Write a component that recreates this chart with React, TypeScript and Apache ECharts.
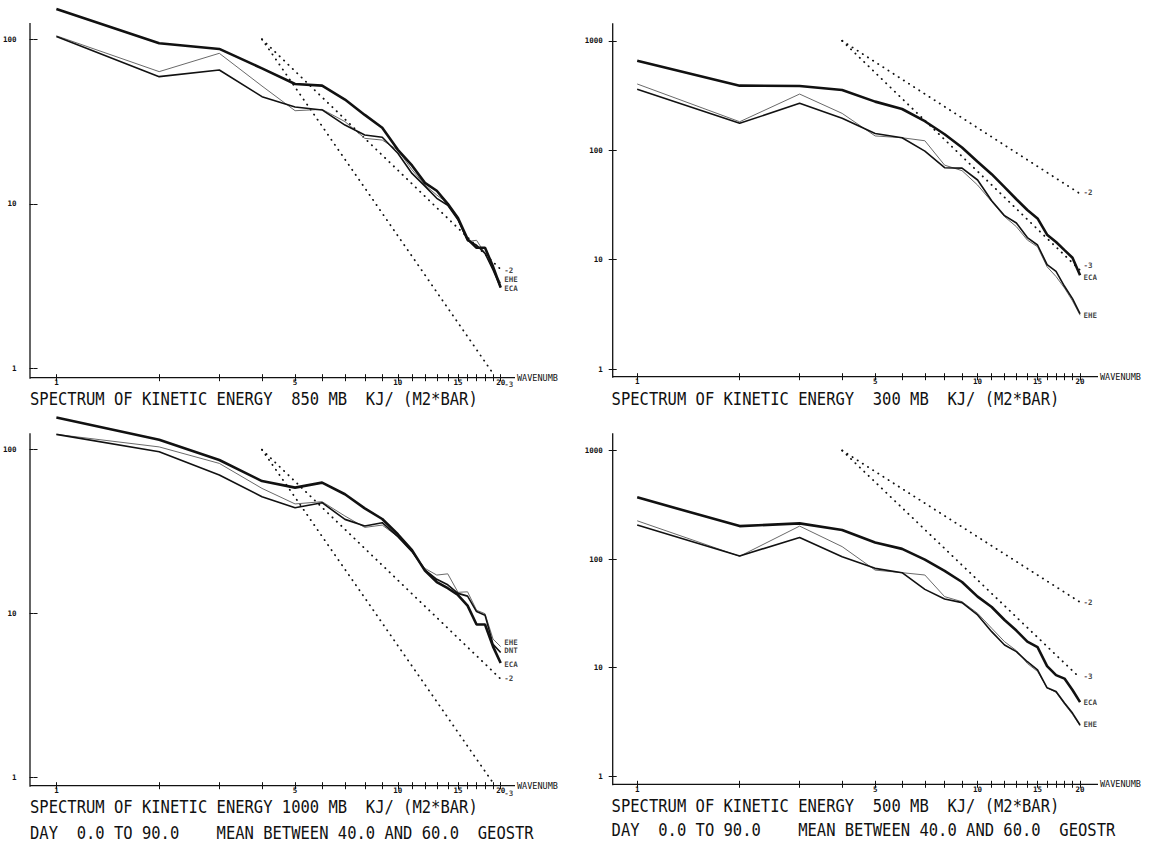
import React, { useEffect, useRef } from "react";
import * as echarts from "echarts";

// ---------- data ----------
const WAVENUMBERS = [1, 2, 3, 4, 5, 6, 7, 8, 9, 10, 11, 12, 13, 14, 15, 16, 17, 18, 19, 20];
const X_TICK_VALUES = [1, 2, 3, 4, 5, 6, 7, 8, 9, 10, 11, 12, 13, 14, 15, 16, 17, 18, 19, 20];
const X_LABEL_VALUES = [1, 5, 10, 15, 20];
const Y_LABELS_LOW = [1, 10, 100];
const Y_LABELS_HIGH = [1, 10, 100, 1000];

// 850 MB
const E850_ECA = [153, 94.6, 87.4, 66.6, 53.5, 52.3, 43, 34.7, 29, 21.3, 17.1, 13.4, 12, 10, 8.2, 6.1, 5.4, 5.4, 4.15, 3.1];
const E850_EHE = [104, 59.3, 65.1, 44.8, 38.8, 37.2, 30.1, 26.2, 25.4, 20.3, 15.3, 12.8, 10.8, 9.8, 8.0, 6.0, 5.6, 5.0, 3.96, 3.1];
const E850_ENE = [105, 63.6, 82.2, 52, 36.8, 37.5, 31.6, 25, 24.4, 21.2, 16.1, 13, 11.3, 10.1, 8.0, 5.9, 6.0, 5.0, 4.0, 3.3];

// 300 MB
const E300_ECA = [658, 389, 386, 355, 278, 238, 184, 140, 106, 78.5, 60.4, 46, 35.6, 28.4, 23.8, 16.9, 14.5, 12.2, 10.4, 7.2];
const E300_EHE = [360, 176, 268, 196, 142, 130, 98, 69.2, 68.6, 53.4, 34.5, 25.2, 21.6, 15.9, 13.6, 9, 7.8, 5.7, 4.4, 3.2];
const E300_ENE = [403, 182, 326, 217, 135, 130, 122, 73, 65, 48, 33.9, 24.7, 20, 15.1, 13.1, 8.6, 7.0, 5.5, 4.2, 3.1];

// 1000 MB
const E1000_ECA = [157, 115, 86.5, 64.4, 58.7, 63, 53.5, 43.9, 37.8, 30.5, 24.4, 18.3, 15.6, 14.3, 13, 11.2, 8.6, 8.6, 6.3, 5.0];
const E1000_EHE = [124, 97.2, 70.1, 51.7, 44.3, 47.5, 37.6, 34.3, 35.9, 29.5, 23.9, 18.5, 16.2, 15, 13.3, 12.8, 10.3, 9.8, 6.5, 5.8];
const E1000_ENE = [124, 104, 82.5, 58.1, 46.7, 48.2, 39.4, 33.6, 34.7, 29.5, 23.9, 18.9, 17.2, 17.5, 13.5, 13.6, 10.5, 10, 7, 6.3];

// 500 MB
const E500_ECA = [370, 201, 213, 185, 142, 124, 98.6, 77.8, 61.4, 45, 36.1, 27.4, 21.9, 17.3, 15.4, 10.3, 8.5, 7.9, 6.2, 4.8];
const E500_EHE = [206, 106.6, 158, 105, 82, 74.8, 52.5, 42.8, 39.6, 30.5, 21.4, 16.1, 14, 11.3, 9.5, 6.5, 6.0, 4.7, 3.8, 2.95];
const E500_ENE = [225, 106, 201, 130, 79, 74.8, 71.2, 45, 40.4, 31.6, 23, 17.3, 14.3, 10.9, 9.2, 6.5, 5.9, 4.6, 3.7, 2.9];

// reference slope lines [wavenumber, energy]
const REF_LOW_M2 = [[4, 100], [20, 4]];
const REF_LOW_M3 = [[4, 100], [19, 0.93]];
const REF_HIGH_M2 = [[4, 1000], [20, 40]];
const REF_HIGH_M3 = [[4, 1000], [20, 8]];

// end labels [text, wavenumber, energy]
const LABELS_850 = [["-2", 20, 3.95], ["EHE", 20, 3.45], ["ECA", 20, 3.05], ["-3", 20, 0.8]];
const LABELS_300 = [["-2", 20, 41], ["-3", 20, 8.9], ["ECA", 20, 6.9], ["EHE", 20, 3.1]];
const LABELS_1000 = [["EHE", 20, 6.7], ["DNT", 20, 6.0], ["ECA", 20, 4.9], ["-2", 20, 4.0], ["-3", 20, 0.8]];
const LABELS_500 = [["-2", 20, 40], ["-3", 20, 8.2], ["ECA", 20, 4.8], ["EHE", 20, 3.0]];

const TITLE_850 = "SPECTRUM OF KINETIC ENERGY  850 MB  KJ/ (M2*BAR)";
const TITLE_300 = "SPECTRUM OF KINETIC ENERGY  300 MB  KJ/ (M2*BAR)";
const TITLE_1000 = "SPECTRUM OF KINETIC ENERGY 1000 MB  KJ/ (M2*BAR)";
const TITLE_500 = "SPECTRUM OF KINETIC ENERGY  500 MB  KJ/ (M2*BAR)";
const SUBTITLE = "DAY  0.0 TO 90.0    MEAN BETWEEN 40.0 AND 60.0  GEOSTR";
const X_NAME = "WAVENUMB";

// ---------- layout ----------
const FONT = '"DejaVu Sans Mono", "Liberation Mono", monospace';
const INK = "#111";

const PANELS = [
  {
    left: 30, right: 515, top: 23, bottom: 377.7, x0: 53, dx: 344, y0: 368.3, dy: 164.5,
    yLabelMargin: 17, titleX: 30, titleY: 399, subY: null as number | null,
    title: TITLE_850, yLabels: Y_LABELS_LOW, eca: E850_ECA, ehe: E850_EHE, ene: E850_ENE,
    m2: REF_LOW_M2, m3: REF_LOW_M3, labels: LABELS_850,
  },
  {
    left: 612.7, right: 1098, top: 23.3, bottom: 376.7, x0: 637.2, dx: 340.4, y0: 369, dy: 109.4,
    yLabelMargin: 10, titleX: 611.6, titleY: 399, subY: null as number | null,
    title: TITLE_300, yLabels: Y_LABELS_HIGH, eca: E300_ECA, ehe: E300_EHE, ene: E300_ENE,
    m2: REF_HIGH_M2, m3: REF_HIGH_M3, labels: LABELS_300,
  },
  {
    left: 30, right: 515, top: 433.3, bottom: 785.7, x0: 53, dx: 344, y0: 777.7, dy: 164,
    yLabelMargin: 17, titleX: 30, titleY: 807.5, subY: 833 as number | null,
    title: TITLE_1000, yLabels: Y_LABELS_LOW, eca: E1000_ECA, ehe: E1000_EHE, ene: E1000_ENE,
    m2: REF_LOW_M2, m3: REF_LOW_M3, labels: LABELS_1000,
  },
  {
    left: 612.7, right: 1098, top: 433.3, bottom: 784.3, x0: 637.2, dx: 340.4, y0: 776, dy: 108.5,
    yLabelMargin: 10, titleX: 611.6, titleY: 806, subY: 830.5 as number | null,
    title: TITLE_500, yLabels: Y_LABELS_HIGH, eca: E500_ECA, ehe: E500_EHE, ene: E500_ENE,
    m2: REF_HIGH_M2, m3: REF_HIGH_M3, labels: LABELS_500,
  },
];

const lg = (v: number) => Math.log10(v);
const toPts = (ks: number[], es: number[]) => ks.map((k, i) => [lg(k), lg(es[i])]);
const pow10Label = (v: number) => String(Math.round(Math.pow(10, v)));

function buildOption() {
  const grid: any[] = [];
  const xAxis: any[] = [];
  const yAxis: any[] = [];
  const series: any[] = [];
  const graphic: any[] = [];

  PANELS.forEach((p, i) => {
    grid.push({ left: p.left, top: p.top, width: p.right - p.left, height: p.bottom - p.top });
    const xmin = (p.left - p.x0) / p.dx;
    const xmax = (p.right - p.x0) / p.dx;
    const ymin = (p.y0 - p.bottom) / p.dy;
    const ymax = (p.y0 - p.top) / p.dy;
    const xt = X_TICK_VALUES.map(lg);
    const xl = X_LABEL_VALUES.map(lg);
    const yl = p.yLabels.map(lg);

    xAxis.push({
      type: "value", gridIndex: i, min: xmin, max: xmax, position: "bottom",
      splitLine: { show: false },
      axisLine: { show: false, onZero: false },
      axisTick: { show: true, length: 3.5, lineStyle: { color: INK, width: 1 }, customValues: xt },
      axisLabel: {
        show: true, customValues: xl, formatter: pow10Label, margin: 1,
        fontSize: 7.5, fontFamily: FONT, fontWeight: "bold", color: INK,
      },
      name: X_NAME, nameLocation: "end", nameGap: 2,
      nameTextStyle: { fontSize: 8.5, fontFamily: FONT, color: INK, align: "left", verticalAlign: "middle" },
    });
    xAxis.push({
      type: "value", gridIndex: i, min: xmin, max: xmax, position: "bottom",
      splitLine: { show: false }, axisLine: { show: false, onZero: false },
      axisTick: { show: true, inside: true, length: 3.5, lineStyle: { color: INK, width: 1 }, customValues: xt },
      axisLabel: { show: false },
    });
    yAxis.push({
      type: "value", gridIndex: i, min: ymin, max: ymax, position: "left",
      splitLine: { show: false },
      axisLine: { show: false, onZero: false },
      axisTick: { show: true, length: 4, lineStyle: { color: INK, width: 1 }, customValues: yl },
      axisLabel: {
        show: true, customValues: yl, formatter: pow10Label, margin: p.yLabelMargin,
        fontSize: 7.5, fontFamily: FONT, fontWeight: "bold", color: INK,
      },
    });
    yAxis.push({
      type: "value", gridIndex: i, min: ymin, max: ymax, position: "left",
      splitLine: { show: false }, axisLine: { show: false, onZero: false },
      axisTick: { show: true, inside: true, length: 4, lineStyle: { color: INK, width: 1 }, customValues: yl },
      axisLabel: { show: false },
    });

    const xi = 2 * i;
    const yi = 2 * i;
    const dotted = { color: INK, width: 1.8, type: [0.3, 5.8], cap: "round" };
    series.push({
      type: "line", name: "-2", xAxisIndex: xi, yAxisIndex: yi, symbol: "none", clip: false,
      data: p.m2.map(([k, e]) => [lg(k), lg(e)]), lineStyle: dotted, z: 2, silent: true,
    });
    series.push({
      type: "line", name: "-3", xAxisIndex: xi, yAxisIndex: yi, symbol: "none", clip: false,
      data: p.m3.map(([k, e]) => [lg(k), lg(e)]), lineStyle: dotted, z: 2, silent: true,
    });
    series.push({
      type: "line", name: "ENE", xAxisIndex: xi, yAxisIndex: yi, symbol: "none", clip: false,
      data: toPts(WAVENUMBERS, p.ene), lineStyle: { color: "#6a6a6a", width: 1 }, z: 3, silent: true,
    });
    series.push({
      type: "line", name: "EHE", xAxisIndex: xi, yAxisIndex: yi, symbol: "none", clip: false,
      data: toPts(WAVENUMBERS, p.ehe), lineStyle: { color: INK, width: 1.6 }, z: 4, silent: true,
    });
    series.push({
      type: "line", name: "ECA", xAxisIndex: xi, yAxisIndex: yi, symbol: "none", clip: false,
      data: toPts(WAVENUMBERS, p.eca), lineStyle: { color: INK, width: 2.6 }, z: 5, silent: true,
    });
    series.push({
      type: "scatter", xAxisIndex: xi, yAxisIndex: yi, symbolSize: 1, clip: false, silent: true,
      itemStyle: { color: "rgba(0,0,0,0)" },
      data: p.labels.map(([t, k, e]) => ({ name: t as string, value: [lg(k as number), lg(e as number)] })),
      label: {
        show: true, formatter: "{b}", position: "right", distance: 3,
        fontSize: 7.5, fontFamily: FONT, fontWeight: "bold", color: INK,
      },
      z: 6,
    });

    // axis lines (frame of the plotter axes)
    graphic.push({
      type: "line", z: 10, silent: true,
      shape: { x1: p.left, y1: p.bottom, x2: p.right, y2: p.bottom },
      style: { stroke: INK, lineWidth: 1.3 },
    });
    graphic.push({
      type: "line", z: 10, silent: true,
      shape: { x1: p.left, y1: p.top, x2: p.left, y2: p.bottom + 1 },
      style: { stroke: INK, lineWidth: 1.3 },
    });

    graphic.push({
      type: "text", x: p.titleX, y: p.titleY, scaleY: 1.08,
      style: {
        text: p.title, fontFamily: FONT, fontSize: 15.5, fill: INK,
        textAlign: "left", align: "left", textVerticalAlign: "middle", verticalAlign: "middle",
      },
    });
    if (p.subY !== null) {
      graphic.push({
        type: "text", x: p.titleX, y: p.subY, scaleY: 1.08,
        style: {
          text: SUBTITLE, fontFamily: FONT, fontSize: 15.5, fill: INK,
          textAlign: "left", align: "left", textVerticalAlign: "middle", verticalAlign: "middle",
        },
      });
    }
  });

  return {
    animation: false,
    backgroundColor: "#ffffff",
    grid, xAxis, yAxis, series, graphic,
  };
}

export default function App() {
  const ref = useRef<HTMLDivElement | null>(null);
  useEffect(() => {
    if (!ref.current) return;
    const chart = echarts.init(ref.current, null, { renderer: "svg" });
    chart.setOption(buildOption() as any);
    return () => chart.dispose();
  }, []);
  return (
    <div
      ref={ref}
      style={{ position: "absolute", left: 0, top: 0, width: 1149, height: 844, background: "#fff" }}
    />
  );
}
